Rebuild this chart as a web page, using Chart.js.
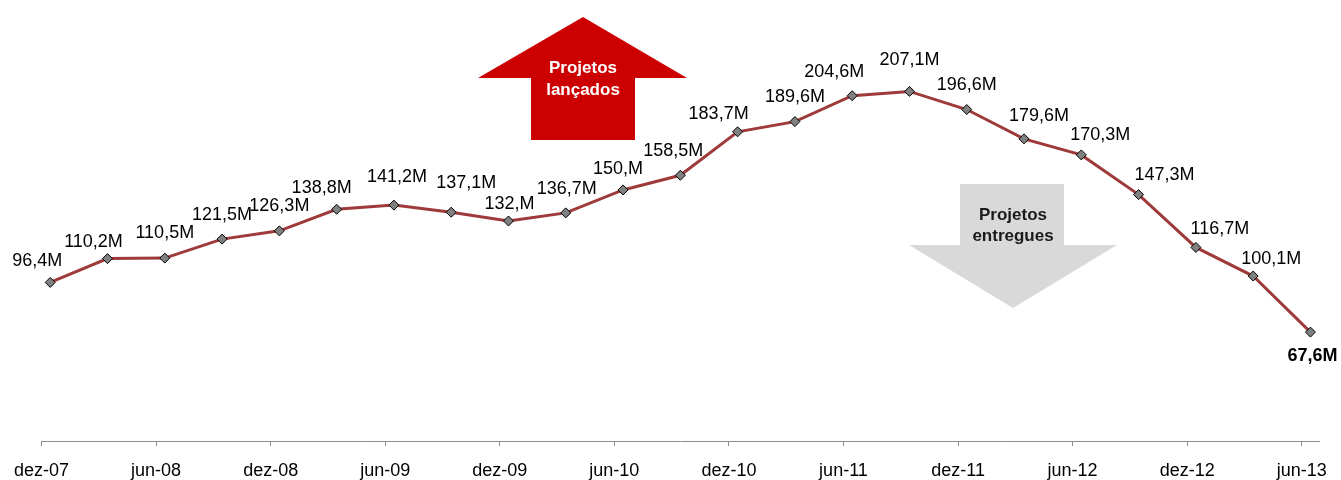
<!DOCTYPE html>
<html>
<head>
<meta charset="utf-8">
<script src="https://cdn.jsdelivr.net/npm/chart.js@4.4.1/dist/chart.umd.min.js"></script>
<style>
  html, body { margin: 0; padding: 0; background: #ffffff; }
  #wrap { position: relative; width: 1341px; height: 480px; }
</style>
</head>
<body>
<div id="wrap"><canvas id="c" width="1341" height="480"></canvas></div>
<script>
// ---- Data ----
const categories = ['dez-07','mar-08','jun-08','set-08','dez-08','mar-09','jun-09','set-09','dez-09','mar-10','jun-10','set-10','dez-10','mar-11','jun-11','set-11','dez-11','mar-12','jun-12','set-12','dez-12','mar-13','jun-13'];
const values = [96.4,110.2,110.5,121.5,126.3,138.8,141.2,137.1,132,136.7,150,158.5,183.7,189.6,204.6,207.1,196.6,179.6,170.3,147.3,116.7,100.1,67.6];
const tickLabels = ['dez-07','jun-08','dez-08','jun-09','dez-09','jun-10','dez-10','jun-11','dez-11','jun-12','dez-12','jun-13'];

// ---- Layout of value labels (pixel offsets from each marker) ----
const labelOffsets = [[-13,-21],[-14,-17],[0,-25],[0,-24],[0,-25],[-15,-21],[3,-28],[15,-29],[1,-17],[1,-24],[-5,-21],[-7,-24],[-19,-18],[0,-25],[-18,-24],[0,-31],[0,-24],[15,-23],[19,-20],[26,-20],[24,-18],[18,-17],[2,24]];

const FONT = '"Liberation Sans", Arial, sans-serif';

function fmt(v) {
  return Number.isInteger(v) ? v + ',M' : v.toFixed(1).replace('.', ',') + 'M';
}

const points = values.map((v, i) => ({ x: i, y: v }));
const tickShift = -0.152;

const valueLabels = {
  id: 'valueLabels',
  afterDatasetsDraw(chart) {
    const ctx = chart.ctx;
    const meta = chart.getDatasetMeta(0);
    ctx.save();
    ctx.textAlign = 'center';
    ctx.textBaseline = 'middle';
    meta.data.forEach((pt, i) => {
      const last = i === values.length - 1;
      ctx.font = (last ? 'bold ' : '') + '18px ' + FONT;
      ctx.fillStyle = '#000000';
      const off = labelOffsets[i];
      ctx.fillText(fmt(values[i]), pt.x + off[0], pt.y + off[1]);
    });
    ctx.restore();
  }
};

const arrows = {
  id: 'arrows',
  beforeDatasetsDraw(chart) {
    const ctx = chart.ctx;
    ctx.save();
    // Up arrow (red)
    ctx.fillStyle = '#CC0000';
    ctx.beginPath();
    ctx.moveTo(583, 17);
    ctx.lineTo(687, 78);
    ctx.lineTo(635, 78);
    ctx.lineTo(635, 140);
    ctx.lineTo(531, 140);
    ctx.lineTo(531, 78);
    ctx.lineTo(478, 78);
    ctx.closePath();
    ctx.fill();
    // Down arrow (gray)
    ctx.fillStyle = '#D9D9D9';
    ctx.beginPath();
    ctx.moveTo(960, 184);
    ctx.lineTo(1064, 184);
    ctx.lineTo(1064, 245);
    ctx.lineTo(1117, 245);
    ctx.lineTo(1013, 308);
    ctx.lineTo(909, 245);
    ctx.lineTo(960, 245);
    ctx.closePath();
    ctx.fill();
    ctx.textAlign = 'center';
    ctx.textBaseline = 'middle';
    ctx.font = 'bold 17px ' + FONT;
    ctx.fillStyle = '#FFFFFF';
    ctx.fillText('Projetos', 583, 68);
    ctx.fillText('lançados', 583, 90);
    ctx.fillStyle = '#1A1A1A';
    ctx.fillText('Projetos', 1013, 215);
    ctx.fillText('entregues', 1013, 236);
    ctx.restore();
  }
};

new Chart(document.getElementById('c'), {
  type: 'line',
  data: {
    datasets: [{
      data: points,
      borderColor: '#9E3A3A',
      borderWidth: 3,
      tension: 0,
      pointStyle: 'rectRot',
      pointRadius: 5,
      pointBackgroundColor: '#808080',
      pointBorderColor: '#000000',
      pointBorderWidth: 1,
      clip: false
    }]
  },
  options: {
    responsive: false,
    animation: false,
    events: [],
    layout: { padding: { left: 38.5, right: 21, top: 0, bottom: 0 } },
    plugins: { legend: { display: false }, tooltip: { enabled: false } },
    scales: {
      x: {
        type: 'linear',
        min: tickShift,
        max: 22.156,
        afterBuildTicks(scale) {
          scale.ticks = tickLabels.map((_, j) => ({ value: j * 2 + tickShift }));
        },
        afterFit(scale) { scale.height = 39; },
        border: { display: true, color: '#8C8C8C', width: 1 },
        grid: { display: true, drawOnChartArea: false, drawTicks: true, tickLength: 5, tickColor: '#8C8C8C' },
        ticks: {
          autoSkip: false,
          maxRotation: 0,
          padding: 14,
          color: '#000000',
          font: { family: FONT, size: 18 },
          callback(value, index) { return tickLabels[index]; }
        }
      },
      y: {
        display: false,
        min: 4.5,
        max: 256.6
      }
    }
  },
  plugins: [arrows, valueLabels]
});
</script>
</body>
</html>
